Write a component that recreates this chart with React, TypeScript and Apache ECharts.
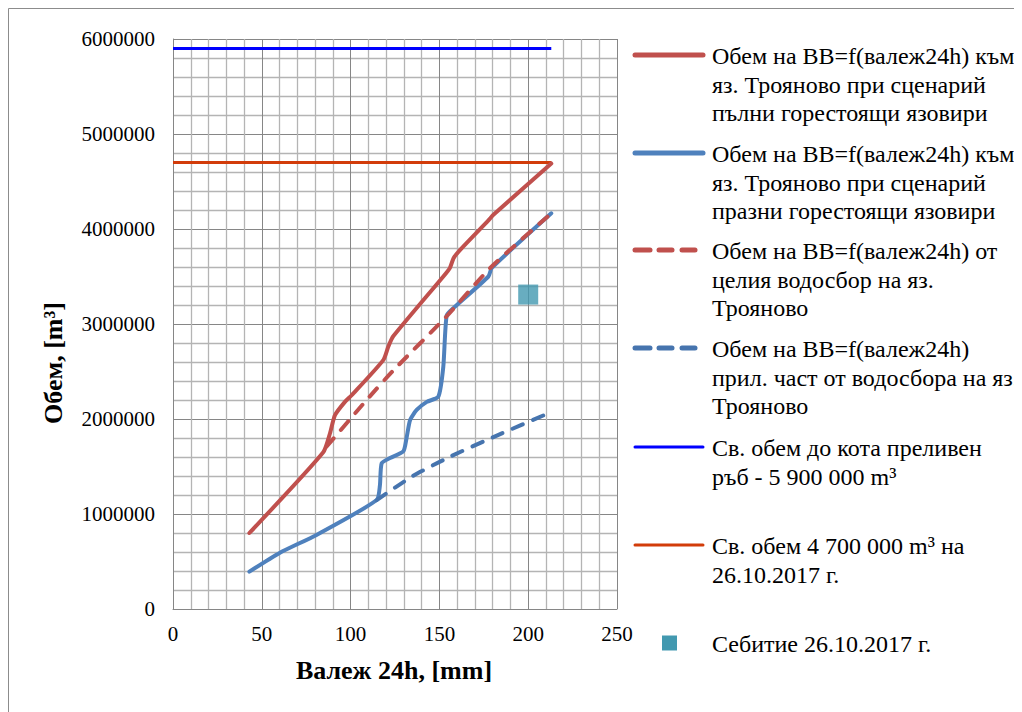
import React, { useEffect, useRef } from "react";
import * as echarts from "echarts";

// x: валеж 24h [mm], y: обем [m3]
const redFull: number[][] = [
  [43, 800000], [84.6, 1650000], [88.4, 1850000],
  [91.2, 2040000], [96.8, 2180000], [100.6, 2250000], [118.4, 2620000], [121.2, 2760000],
  [124, 2870000], [152.2, 3500000], [155.9, 3590000], [157.9, 3690000],
  [160.7, 3760000], [177.6, 4090000], [180.4, 4150000], [213, 4690000],
];
const blueEmpty: number[][] = [
  [43, 393000], [60, 590000], [80.8, 780000], [114.7, 1147000],
  [116.5, 1300000], [117.5, 1534000], [122.2, 1590000], [129.7, 1660000], [131.5, 1800000],
  [133.5, 1990000], [137.2, 2095000], [142.9, 2180000], [149.4, 2235000], [152.2, 2550000],
  [154.1, 3090000], [158, 3170000], [177.6, 3500000], [179.5, 3590000],
  [213, 4165000],
];
const redWhole: number[][] = [
  [86.5, 1710000], [109, 2200000], [124, 2510000], [154, 3080000], [178.6, 3590000], [213, 4165000],
];
const bluePart: number[][] = [
  [114.7, 1147000], [135, 1400000], [156, 1603000], [180.4, 1810000], [213.5, 2077000],
];
const spillVolume: number[][] = [[0, 5900000], [213, 5900000]];
const freeVolume: number[][] = [[0, 4700000], [213, 4700000]];
const storage: number[][] = [[200, 3310000]];

const xMin = 0, xMax = 250, xStep = 50;
const yMin = 0, yMax = 6000000, yStep = 1000000;

const legendTexts: string[][] = [
  ["Обем на ВВ=f(валеж24h) към", "яз. Трояново при сценарий", "пълни горестоящи язовири"],
  ["Обем на ВВ=f(валеж24h) към", "яз. Трояново при сценарий", "празни горестоящи язовири"],
  ["Обем на ВВ=f(валеж24h) от", "целия водосбор на яз.", "Трояново"],
  ["Обем на ВВ=f(валеж24h)", "прил. част от водосбора на яз.", "Трояново"],
  ["Св. обем до кота преливен", "ръб - 5 900 000 m³"],
  ["Св. обем 4 700 000 m³ на", "26.10.2017 г."],
  ["Себитие 26.10.2017 г."],
];
const xTitle = "Валеж 24h, [mm]";
const yTitle = "Обем, [m³]";

const FONT = "Liberation Serif";
const C_RED = "#C0504D";
const C_BLUE = "#4F81BD";
const C_BLUE_D = "#4674AE";
const C_LINE_BLUE = "#0000FF";
const C_ORANGE = "#D23C0A";
const C_SQ = "#4299B0";

export default function App() {
  const ref = useRef<HTMLDivElement>(null);
  useEffect(() => {
    const chart = echarts.init(ref.current!, null, { renderer: "svg" });

    const legendY = [47, 145, 242, 340, 439, 537, 635];
    const lineH = 28.7;
    const icons: any[] = [
      { kind: "line", color: C_RED, w: 5 },
      { kind: "line", color: C_BLUE, w: 5 },
      { kind: "dash", color: C_RED, w: 5 },
      { kind: "dash", color: C_BLUE_D, w: 5 },
      { kind: "line", color: C_LINE_BLUE, w: 3 },
      { kind: "line", color: C_ORANGE, w: 3 },
      { kind: "square", color: C_SQ },
    ];
    const graphics: any[] = [
      {
        type: "rect", shape: { x: 0.5, y: 0.5, width: 1200, height: 900 },
        style: { fill: "none", stroke: "#8C8C8C", lineWidth: 1 }, silent: true,
      },
      {
        type: "text", x: 386, y: 662,
        style: {
          text: xTitle, fontFamily: FONT, fontSize: 26, fontWeight: "bold",
          fill: "#000", align: "center", verticalAlign: "middle",
        },
      },
      {
        type: "text", x: 45, y: 355, rotation: Math.PI / 2,
        style: {
          text: yTitle, fontFamily: FONT, fontSize: 26, fontWeight: "bold",
          fill: "#000", align: "center", verticalAlign: "middle",
        },
      },
    ];
    legendTexts.forEach((lines, i) => {
      const y0 = legendY[i];
      const ic = icons[i];
      if (ic.kind === "line") {
        graphics.push({
          type: "line", shape: { x1: 627, y1: y0, x2: 695, y2: y0 },
          style: { stroke: ic.color, lineWidth: ic.w, lineCap: "round" },
        });
      } else if (ic.kind === "dash") {
        [[627, 642], [651, 664], [674, 687]].forEach(([a, b]) => {
          graphics.push({
            type: "line", shape: { x1: a, y1: y0, x2: b, y2: y0 },
            style: { stroke: ic.color, lineWidth: ic.w, lineCap: "round" },
          });
        });
      } else {
        graphics.push({
          type: "rect", shape: { x: 654, y: y0 - 7.5, width: 15, height: 15 },
          style: { fill: ic.color },
        });
      }
      lines.forEach((t, k) => {
        graphics.push({
          type: "text", x: 704, y: y0 + 1 + k * lineH,
          style: {
            text: t, fontFamily: FONT, fontSize: 24, fill: "#000",
            align: "left", verticalAlign: "middle",
          },
        });
      });
    });

    const axisCommon = {
      axisLine: { show: true, lineStyle: { color: "#868686", width: 1 } },
      axisTick: { show: false },
      splitLine: { show: true, lineStyle: { color: "#868686", width: 1 } },
      minorTick: { show: false, splitNumber: 5 },
      minorSplitLine: { show: true, lineStyle: { color: "#B4B4B4", width: 1.3 } },
    };

    chart.setOption({
      animation: false,
      backgroundColor: "#fff",
      grid: { left: 165, top: 31, width: 444, height: 570, containLabel: false },
      xAxis: {
        type: "value", min: xMin, max: xMax, interval: xStep,
        ...axisCommon,
        axisLabel: { color: "#000", fontSize: 21, fontFamily: FONT, margin: 14 },
      },
      yAxis: {
        type: "value", min: yMin, max: yMax, interval: yStep,
        ...axisCommon,
        axisLabel: { color: "#000", fontSize: 21, fontFamily: FONT, margin: 18, formatter: (v: number) => String(v) },
      },
      series: [
        {
          name: legendTexts[4].join(" "), type: "line", data: spillVolume, showSymbol: false,
          lineStyle: { color: C_LINE_BLUE, width: 3 }, z: 2,
        },
        {
          name: legendTexts[5].join(" "), type: "line", data: freeVolume, showSymbol: false,
          lineStyle: { color: C_ORANGE, width: 3 }, z: 2,
        },
        {
          name: legendTexts[0].join(" "), type: "line", data: redFull, showSymbol: false,
          smooth: 0.2,
          lineStyle: { color: C_RED, width: 4, cap: "round" }, z: 3,
        },
        {
          name: legendTexts[1].join(" "), type: "line", data: blueEmpty, showSymbol: false,
          smooth: 0.2,
          lineStyle: { color: C_BLUE, width: 4, cap: "round" }, z: 3,
        },
        {
          name: legendTexts[2].join(" "), type: "line", data: redWhole, showSymbol: false,
          smooth: 0.2,
          lineStyle: { color: C_RED, width: 4, type: [11, 11], cap: "round" }, z: 4,
        },
        {
          name: legendTexts[3].join(" "), type: "line", data: bluePart, showSymbol: false,
          smooth: 0.2,
          lineStyle: { color: C_BLUE_D, width: 4, type: [11, 11], cap: "round" }, z: 4,
        },
        {
          name: legendTexts[6][0], type: "scatter", data: storage, symbol: "rect", symbolSize: 20,
          itemStyle: { color: C_SQ }, z: 5,
        },
      ],
      graphic: graphics,
    });
    return () => chart.dispose();
  }, []);
  return <div ref={ref} style={{ width: 1014, height: 704 }} />;
}
